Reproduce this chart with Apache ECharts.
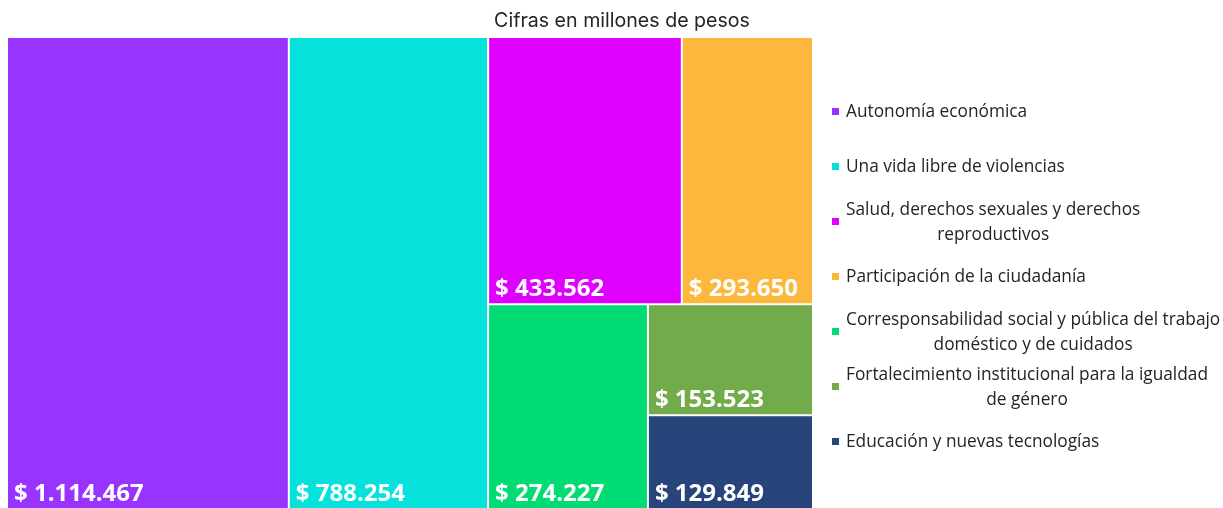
<!DOCTYPE html>
<html>
<head>
<meta charset="utf-8">
<script src="https://cdn.jsdelivr.net/npm/echarts@6/dist/echarts.min.js"></script>
<style>
  html, body { margin: 0; padding: 0; background: #fff; }
  #chart { width: 1223px; height: 508px; }
</style>
</head>
<body>
<div id="chart"></div>
<script>
// ejes de politica y presupuesto (millones de pesos)
const categories = [
  'Autonomía económica',
  'Una vida libre de violencias',
  'Salud, derechos sexuales y derechos reproductivos',
  'Participación de la ciudadanía',
  'Corresponsabilidad social y pública del trabajo doméstico y de cuidados',
  'Fortalecimiento institucional para la igualdad de género',
  'Educación y nuevas tecnologías'
];
const values = [1114467, 788254, 433562, 293650, 274227, 153523, 129849];
const colors = ['#9933FF', '#06E1DC', '#DF00FF', '#FBB83C', '#00DB74', '#71AB4A', '#27457B'];
const titleText = 'Cifras en millones de pesos';

// como se agrupan los bloques (indices de categories)
const groups = [0, 1, [[2, 3], [4, [5, 6]]]];

function fmt(v) {
  return String(v).replace(/\B(?=(\d{3})+(?!\d))/g, '.');
}

function buildNode(g) {
  if (Array.isArray(g)) {
    return { name: '', children: g.map(buildNode) };
  }
  return {
    name: categories[g],
    value: values[g],
    itemStyle: { color: colors[g] }
  };
}

// leyenda a mano (treemap no tiene leyenda)
const legendFont = '17.3px "Open Sans"';
const ctx = document.createElement('canvas').getContext('2d');
ctx.font = legendFont;
function wrap(text, maxW) {
  const words = text.split(' ');
  const lines = [];
  let cur = '';
  words.forEach(w => {
    const t = cur ? cur + ' ' + w : w;
    if (ctx.measureText(t).width > maxW && cur) {
      lines.push(cur);
      cur = w;
    } else {
      cur = t;
    }
  });
  if (cur) lines.push(cur);
  return lines;
}

const legendItems = [];
categories.forEach((name, i) => {
  const cy = 111 + 55 * i;
  const lines = wrap(name, 376);
  const maxW = Math.max.apply(null, lines.map(l => ctx.measureText(l).width));
  legendItems.push({
    type: 'rect',
    shape: { x: 832, y: cy - 3, width: 7, height: 7 },
    style: { fill: colors[i] }
  });
  legendItems.push({
    type: 'text',
    x: 846 + maxW / 2,
    y: cy + 1.5,
    style: {
      text: lines.join('\n'),
      font: legendFont,
      fill: '#252423',
      align: 'center',
      verticalAlign: 'middle',
      lineHeight: 25
    }
  });
});

const chart = echarts.init(document.getElementById('chart'));
chart.setOption({
  animation: false,
  title: {
    text: titleText,
    left: 617,
    top: 6,
    textAlign: 'center',
    textStyle: {
      fontFamily: 'Inter',
      fontSize: 19.6,
      fontWeight: 'normal',
      color: '#252423'
    }
  },
  graphic: legendItems,
  series: [{
    type: 'treemap',
    left: 8,
    top: 38,
    width: 804,
    height: 470,
    sort: false,
    squareRatio: 1,
    roam: false,
    nodeClick: false,
    breadcrumb: { show: false },
    itemStyle: { borderWidth: 0, gapWidth: 2, borderColor: '#fff' },
    label: {
      show: true,
      position: 'insideBottomLeft',
      padding: [5, 5, 2, 6],
      fontFamily: 'Open Sans',
      fontSize: 24,
      fontWeight: 'bold',
      color: '#fff',
      formatter: p => '$ ' + fmt(p.value)
    },
    data: groups.map(buildNode)
  }]
});
</script>
</body>
</html>
